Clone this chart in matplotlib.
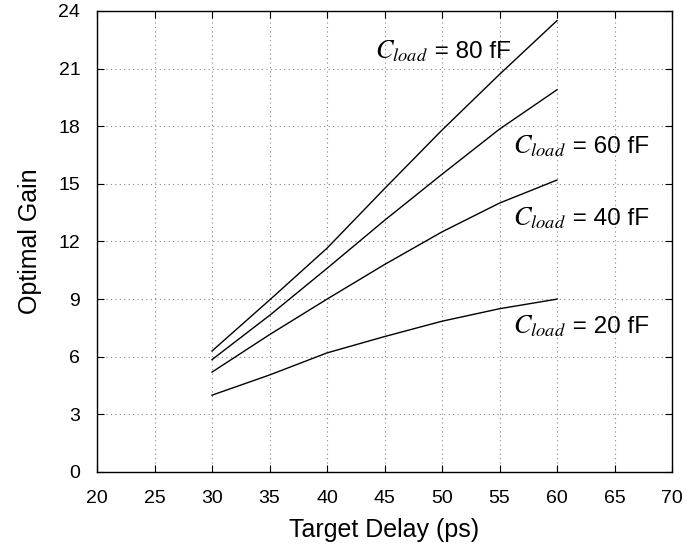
import matplotlib
matplotlib.use("Agg")
import matplotlib.pyplot as plt

plt.rcParams['font.family'] = ['Liberation Sans', 'DejaVu Sans']
plt.rcParams['mathtext.fontset'] = 'stix'

delay = [30, 35, 40, 45, 50, 55, 60]
gain_20fF = [4.0, 5.05, 6.2, 7.05, 7.85, 8.5, 9.0]
gain_40fF = [5.2, 7.15, 9.0, 10.8, 12.5, 14.0, 15.2]
gain_60fF = [5.85, 8.15, 10.6, 13.1, 15.5, 17.85, 19.9]
gain_80fF = [6.3, 8.95, 11.65, 14.75, 17.8, 20.7, 23.5]

label_sym = r'$C_{load}$'
label_vals = [' = 20 fF', ' = 40 fF', ' = 60 fF', ' = 80 fF']

xticks = list(range(20, 71, 5))
yticks = list(range(0, 25, 3))

fig = plt.figure(figsize=(6.87, 5.48), dpi=100)
ax = fig.add_axes([97/687, 1-472/548, (672-97)/687, (472-11)/548])

for g in (gain_20fF, gain_40fF, gain_60fF, gain_80fF):
    ax.plot(delay, g, color='black', linewidth=1.0)

ax.set_xlim(20, 70)
ax.set_ylim(0, 24)
ax.set_xticks(xticks)
ax.set_yticks(yticks)
ax.grid(True, linestyle=(0, (1, 3)), color='#888888', linewidth=0.8)
ax.tick_params(direction='in', top=True, right=True, length=5, width=0.8,
               labelsize=14)
ax.tick_params(axis='x', pad=13)
ax.tick_params(axis='y', pad=12)
for s in ax.spines.values():
    s.set_linewidth(1.0)

ax.set_xlabel('Target Delay (ps)', fontsize=18, labelpad=8)
ax.set_ylabel('Optimal Gain', fontsize=18, labelpad=12)

anchors = [(56.2, 7.24), (56.2, 12.86), (56.2, 16.6), (44.2, 21.55)]
fig.canvas.draw()
renderer = fig.canvas.get_renderer()
for (x, y), val in zip(anchors, label_vals):
    t1 = ax.text(x, y, label_sym, fontsize=19, va='baseline', ha='left')
    ext = t1.get_window_extent(renderer)
    x_end = ax.transData.inverted().transform((ext.x1, 0))[0]
    ax.text(x_end, y, val, fontsize=17.5, va='baseline', ha='left')

fig.savefig('out.png', dpi=100)
